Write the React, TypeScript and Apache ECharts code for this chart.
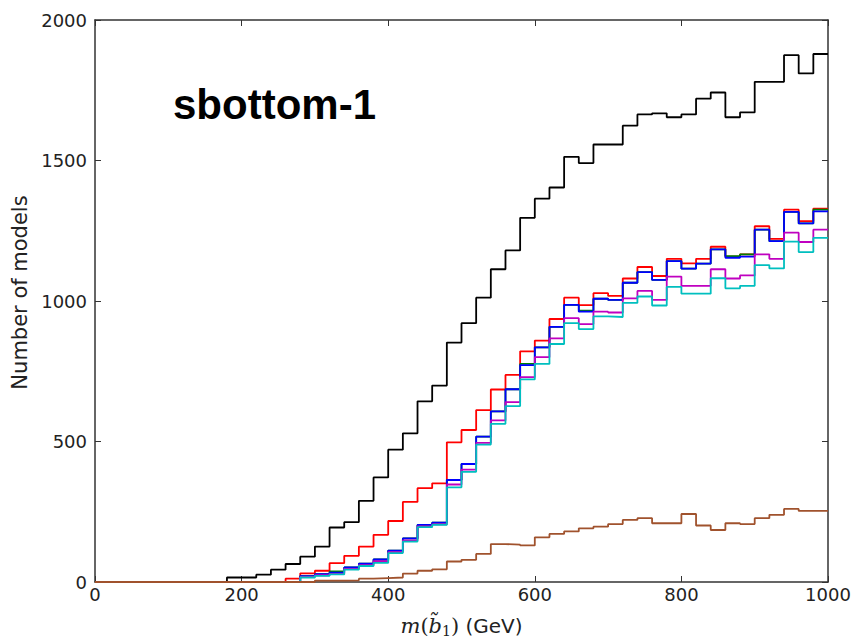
import React, { useEffect, useRef } from "react";
import * as echarts from "echarts";

// Bin left edges: 0, 20, ..., 980 (GeV); 50 bins of width 20
const binWidth = 20;
const binEdges: number[] = Array.from({ length: 51 }, (_, i) => i * binWidth);

const xTicks = [0, 200, 400, 600, 800, 1000];
const yTicks = [0, 500, 1000, 1500, 2000];

// Counts per bin (50 bins)
const blackCounts = [
  0, 0, 0, 0, 0, 0, 0, 0, 0, 16,
  16, 26, 44, 64, 90, 126, 194, 213, 289, 372,
  471, 529, 643, 699, 852, 921, 1012, 1113, 1180, 1296,
  1364, 1404, 1513, 1491, 1557, 1557, 1624, 1664, 1668, 1654,
  1664, 1720, 1742, 1654, 1671, 1780, 1780, 1875, 1810, 1879,
];
const redCounts = [
  0, 0, 0, 0, 0, 0, 0, 0, 0, 0,
  0, 0, 0, 12, 31, 40, 67, 93, 126, 168,
  217, 285, 334, 351, 497, 541, 612, 685, 737, 821,
  859, 936, 1012, 985, 1028, 1018, 1080, 1121, 1089, 1150,
  1134, 1150, 1193, 1158, 1166, 1266, 1221, 1325, 1284, 1329,
];
const greenCounts = [
  0, 0, 0, 0, 0, 0, 0, 0, 0, 0,
  0, 0, 0, 0, 21, 28, 38, 52, 65, 80,
  112, 155, 203, 211, 363, 420, 517, 607, 686, 776,
  835, 908, 986, 966, 1008, 1004, 1065, 1103, 1075, 1142,
  1115, 1133, 1184, 1160, 1166, 1254, 1213, 1317, 1276, 1325,
];
const blueCounts = [
  0, 0, 0, 0, 0, 0, 0, 0, 0, 0,
  0, 0, 0, 0, 21, 28, 33, 52, 65, 80,
  112, 155, 203, 211, 363, 420, 517, 607, 686, 772,
  835, 908, 986, 962, 1008, 1004, 1065, 1103, 1075, 1142,
  1115, 1133, 1184, 1154, 1158, 1254, 1213, 1317, 1276, 1319,
];
const magentaCounts = [
  0, 0, 0, 0, 0, 0, 0, 0, 0, 0,
  0, 0, 0, 0, 18, 24, 29, 47, 60, 74,
  106, 148, 198, 205, 347, 400, 495, 575, 640, 729,
  800, 867, 939, 918, 962, 959, 1009, 1036, 1004, 1087,
  1054, 1054, 1113, 1080, 1091, 1166, 1150, 1243, 1210, 1254,
];
const cyanCounts = [
  0, 0, 0, 0, 0, 0, 0, 0, 0, 0,
  0, 0, 0, 0, 16, 22, 27, 44, 57, 68,
  103, 144, 195, 203, 337, 392, 489, 563, 626, 721,
  776, 847, 921, 900, 945, 943, 993, 1016, 984, 1050,
  1026, 1026, 1081, 1045, 1054, 1128, 1116, 1211, 1174, 1225,
];
const brownCounts = [
  0, 0, 0, 0, 0, 0, 0, 0, 0, 0,
  0, 0, 0, 0, 0, 5, 5, 6, 12, 14,
  16, 30, 40, 45, 73, 79, 100, 135, 133, 130,
  159, 171, 180, 191, 197, 206, 221, 227, 209, 209,
  242, 201, 185, 209, 206, 227, 239, 260, 253, 253,
];

const seriesDefs = [
  { name: "all", counts: blackCounts, color: "#000000" },
  { name: "red", counts: redCounts, color: "#ff0000" },
  { name: "green", counts: greenCounts, color: "#008000" },
  { name: "blue", counts: blueCounts, color: "#0000ff" },
  { name: "magenta", counts: magentaCounts, color: "#c000c0" },
  { name: "cyan", counts: cyanCounts, color: "#00bfbf" },
  { name: "brown", counts: brownCounts, color: "#a0522d" },
];

const titleText = "sbottom-1";

function stepData(counts: number[]) {
  const pts: number[][] = counts.map((c, i) => [binEdges[i], c]);
  pts.push([binEdges[counts.length], counts[counts.length - 1]]);
  return pts;
}

export default function App() {
  const ref = useRef<HTMLDivElement>(null);
  useEffect(() => {
    if (!ref.current) return;
    const chart = echarts.init(ref.current, undefined, { renderer: "svg" });
    const axisColor = "#333333";
    const labelStyle = {
      fontFamily: "DejaVu Sans",
      fontSize: 18,
      color: "#222222",
    };
    chart.setOption({
      animation: false,
      backgroundColor: "#ffffff",
      grid: { left: 95, right: 26, top: 20, bottom: 59, containLabel: false },
      xAxis: [
        {
          type: "value",
          min: 0,
          max: 1000,
          interval: 200,
          position: "bottom",
          axisLine: { show: true, onZero: false, lineStyle: { color: axisColor, width: 1.5 } },
          axisTick: { show: true, inside: true, length: 6, lineStyle: { color: axisColor } },
          axisLabel: {
            ...labelStyle,
            margin: 3,
            showMinLabel: true,
            showMaxLabel: true,
            formatter: (v: number) => (xTicks.includes(v) ? String(v) : ""),
          },
          splitLine: { show: false },
          name: "{i|m}{r|(}{b|b\u0303}{s|1}{r|)}{n| (GeV)}",
          nameLocation: "middle",
          nameGap: 31,
          nameTextStyle: {
            rich: {
              i: { fontFamily: "DejaVu Serif", fontStyle: "italic", fontSize: 21, color: "#222" },
              r: { fontFamily: "DejaVu Serif", fontSize: 21, color: "#222" },
              b: { fontFamily: "DejaVu Serif", fontStyle: "italic", fontSize: 21, color: "#222" },
              s: { fontFamily: "DejaVu Serif", fontSize: 14, color: "#222", padding: [11, 0, 0, 0] },
              n: { fontFamily: "DejaVu Sans", fontSize: 20, color: "#222" },
            },
          },
        },
        {
          type: "value",
          min: 0,
          max: 1000,
          interval: 200,
          position: "top",
          axisLine: { show: true, onZero: false, lineStyle: { color: axisColor, width: 1.5 } },
          axisTick: { show: true, inside: true, length: 6, lineStyle: { color: axisColor } },
          axisLabel: { show: false },
          splitLine: { show: false },
        },
      ],
      yAxis: [
        {
          type: "value",
          min: 0,
          max: 2000,
          interval: 500,
          position: "left",
          axisLine: { show: true, onZero: false, lineStyle: { color: axisColor, width: 1.5 } },
          axisTick: { show: true, inside: true, length: 6, lineStyle: { color: axisColor } },
          axisLabel: {
            ...labelStyle,
            margin: 8,
            showMinLabel: true,
            showMaxLabel: true,
            formatter: (v: number) => (yTicks.includes(v) ? String(v) : ""),
          },
          splitLine: { show: false },
          name: "Number of models",
          nameLocation: "middle",
          nameGap: 57,
          nameTextStyle: {
            fontFamily: "DejaVu Sans",
            fontSize: 21,
            color: "#222222",
            padding: [0, 0, 0, 17],
          },
        },
        {
          type: "value",
          min: 0,
          max: 2000,
          interval: 500,
          position: "right",
          axisLine: { show: true, onZero: false, lineStyle: { color: axisColor, width: 1.5 } },
          axisTick: { show: true, inside: true, length: 6, lineStyle: { color: axisColor } },
          axisLabel: { show: false },
          splitLine: { show: false },
        },
      ],
      graphic: [
        {
          type: "text",
          x: 173,
          y: 104,
          z: 100,
          style: {
            text: titleText,
            fontFamily: "Liberation Sans",
            fontWeight: "bold",
            fontSize: 42,
            fill: "#000000",
            verticalAlign: "middle",
            align: "left",
          },
        },
      ],
      series: seriesDefs.map((s) => ({
        type: "line",
        name: s.name,
        xAxisIndex: 0,
        yAxisIndex: 0,
        step: "end",
        showSymbol: false,
        symbol: "none",
        data: stepData(s.counts),
        lineStyle: { color: s.color, width: 1.8 },
        itemStyle: { color: s.color },
        silent: true,
      })),
    });
    return () => chart.dispose();
  }, []);
  return (
    <div
      ref={ref}
      style={{ position: "fixed", left: 0, top: 0, width: 854, height: 643 }}
    />
  );
}
